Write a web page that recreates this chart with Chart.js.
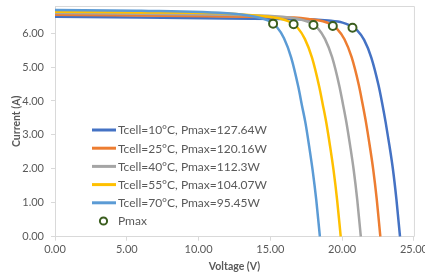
<!DOCTYPE html>
<html>
<head>
    <meta charset="UTF-8"/>
    <title>IV curves</title>
    <script type="text/javascript" src="https://cdn.jsdelivr.net/npm/chart.js@4.4.0/dist/chart.umd.min.js"></script>
    <style>
        html, body { margin: 0; padding: 0; background: #ffffff; overflow: hidden; }
        #wrap { width: 430px; height: 277px; }
    </style>
</head>
<body>
<div id="wrap">
    <canvas id="graficoIV" width="430" height="277"></canvas>
</div>
<script type="text/javascript">
    // series labels
    var labels = ["Tcell=10°C, Pmax=127.64W", "Tcell=25°C, Pmax=120.16W", "Tcell=40°C, Pmax=112.3W",
        "Tcell=55°C, Pmax=104.07W", "Tcell=70°C, Pmax=95.45W"];
    var colors = ["#4472C4", "#ED7D31", "#A5A5A5", "#FFC000", "#5B9BD5"];

    // voltage / current
    var v10 = [0, 6, 12, 18.03, 19.03, 20.03, 20.53, 21.03, 21.53, 22.03, 22.53, 22.78, 23.03, 23.28, 23.53, 23.78, 24.03];
    var i10 = [6.48, 6.46, 6.43, 6.40, 6.37, 6.31, 6.23, 6.09, 5.80, 5.28, 4.47, 3.95, 3.37, 2.72, 2.01, 1.10, 0];
    var v25 = [0, 6, 12, 16.66, 17.66, 18.66, 19.16, 19.66, 20.16, 20.66, 21.16, 21.41, 21.66, 21.91, 22.16, 22.41, 22.66];
    var i25 = [6.54, 6.52, 6.49, 6.46, 6.42, 6.35, 6.27, 6.12, 5.82, 5.29, 4.47, 3.94, 3.37, 2.71, 1.99, 1.10, 0];
    var v40 = [0, 6, 12, 15.3, 16.3, 17.3, 17.8, 18.3, 18.8, 19.3, 19.8, 20.05, 20.3, 20.55, 20.8, 21.05, 21.3];
    var i40 = [6.59, 6.57, 6.54, 6.50, 6.46, 6.38, 6.30, 6.15, 5.83, 5.29, 4.45, 3.92, 3.36, 2.70, 1.98, 1.09, 0];
    var v55 = [0, 6, 12, 13.9, 14.9, 15.9, 16.4, 16.9, 17.4, 17.9, 18.4, 18.65, 18.9, 19.15, 19.4, 19.65, 19.9];
    var i55 = [6.63, 6.61, 6.58, 6.52, 6.48, 6.40, 6.32, 6.16, 5.83, 5.28, 4.43, 3.90, 3.35, 2.69, 1.96, 1.08, 0];
    var v70 = [0, 6, 12.45, 13.45, 14.45, 14.95, 15.45, 15.95, 16.45, 16.95, 17.2, 17.45, 17.7, 17.95, 18.2, 18.45];
    var i70 = [6.68, 6.66, 6.57, 6.52, 6.43, 6.35, 6.18, 5.85, 5.28, 4.41, 3.87, 3.34, 2.67, 1.94, 1.07, 0];

    // maximum power points
    var vPmax = [20.72, 19.35, 18.0, 16.62, 15.19];
    var iPmax = [6.16, 6.21, 6.24, 6.26, 6.28];

    var xTicks = [0, 5, 10, 15, 20, 25];
    var yTicks = [0, 1, 2, 3, 4, 5, 6];

    var FONT = "Lato, 'Open Sans', sans-serif";
    var TXT = "#595959";
    var AXIS = "#D9D9D9";
    var PMAX_COLOR = "#3B5E1F";

    var toPoints = function (vs, is) {
        var out = [];
        for (var k = 0; k < vs.length; k++) {
            out.push({x: vs[k], y: is[k]});
        }
        return out;
    };

    var curves = [[v10, i10], [v25, i25], [v40, i40], [v55, i55], [v70, i70]];
    var datasets = [{
        label: "Pmax",
        data: toPoints(vPmax, iPmax),
        showLine: false,
        pointRadius: 4,
        pointBorderWidth: 2,
        pointBorderColor: PMAX_COLOR,
        pointBackgroundColor: "#ffffff",
        order: 0
    }];
    // last series on top, like the original
    for (var s = curves.length - 1; s >= 0; s--) {
        datasets.push({
            label: labels[s],
            data: toPoints(curves[s][0], curves[s][1]),
            borderColor: colors[s],
            backgroundColor: colors[s],
            borderWidth: 2.5,
            pointRadius: 0,
            fill: false,
            cubicInterpolationMode: "monotone",
            order: 5 - s
        });
    }

    // legend drawn inside the plot area + light frame top/right
    var insideLegend = {
        id: "insideLegend",
        afterDraw: function (chart) {
            var ctx = chart.ctx;
            var a = chart.chartArea;
            ctx.save();
            ctx.strokeStyle = AXIS;
            ctx.lineWidth = 1;
            ctx.beginPath();
            ctx.moveTo(a.left, a.top + 0.5);
            ctx.lineTo(a.right + 0.5, a.top + 0.5);
            ctx.lineTo(a.right + 0.5, a.bottom);
            ctx.stroke();

            ctx.font = "12px " + FONT;
            ctx.fillStyle = TXT;
            ctx.textBaseline = "middle";
            ctx.textAlign = "left";
            var y0 = 130, step = 18.2;
            for (var k = 0; k < labels.length; k++) {
                var yy = y0 + step * k;
                ctx.strokeStyle = colors[k];
                ctx.lineWidth = 3;
                ctx.beginPath();
                ctx.moveTo(92, yy);
                ctx.lineTo(116, yy);
                ctx.stroke();
                ctx.fillText(labels[k], 118, yy + 0.5);
            }
            var yp = y0 + step * 5;
            ctx.strokeStyle = PMAX_COLOR;
            ctx.lineWidth = 2;
            ctx.fillStyle = "#ffffff";
            ctx.beginPath();
            ctx.arc(103.5, yp, 3.6, 0, Math.PI * 2);
            ctx.fill();
            ctx.stroke();
            ctx.fillStyle = TXT;
            ctx.fillText("Pmax", 118, yp + 0.5);
            ctx.restore();
        }
    };

    var ctx = document.getElementById("graficoIV");
    var myChart = new Chart(ctx, {
        type: "line",
        data: {datasets: datasets},
        plugins: [insideLegend],
        options: {
            responsive: false,
            animation: false,
            layout: {padding: {top: 5, right: 15, left: 0, bottom: 0}},
            plugins: {legend: {display: false}, tooltip: {enabled: false}},
            scales: {
                x: {
                    type: "linear",
                    min: 0,
                    max: 25,
                    afterFit: function (sc) { sc.height = 40.3; },
                    afterBuildTicks: function (sc) {
                        sc.ticks = xTicks.map(function (v) { return {value: v}; });
                    },
                    border: {color: AXIS},
                    grid: {drawOnChartArea: false, tickLength: 4, color: AXIS},
                    ticks: {
                        padding: 2, color: TXT, maxRotation: 0,
                        font: {family: FONT, size: 11},
                        callback: function (v) { return Number(v).toFixed(2); }
                    },
                    title: {
                        display: true, text: "Voltage (V)", color: TXT,
                        font: {family: FONT, size: 10.5, weight: "bold"},
                        padding: {top: 0, bottom: 4}
                    }
                },
                y: {
                    type: "linear",
                    min: 0,
                    max: 6.8,
                    afterFit: function (sc) {
                        sc.width = 55;
                        sc.paddingTop = 0;
                        sc.paddingBottom = 0;
                    },
                    afterBuildTicks: function (sc) {
                        sc.ticks = yTicks.map(function (v) { return {value: v}; });
                    },
                    border: {color: AXIS},
                    grid: {drawOnChartArea: false, tickLength: 4, color: AXIS},
                    ticks: {
                        padding: 7, color: TXT,
                        font: {family: FONT, size: 11},
                        callback: function (v) { return Number(v).toFixed(2); }
                    },
                    title: {
                        display: true, text: "Current (A)", color: TXT,
                        font: {family: FONT, size: 10.5, weight: "bold"},
                        padding: {top: 10, bottom: 0}
                    }
                }
            }
        }
    });
</script>
</body>
</html>
